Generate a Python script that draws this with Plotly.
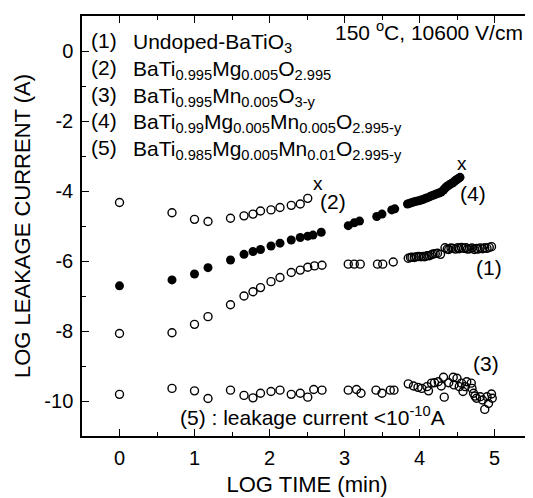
import plotly.graph_objects as go

# ---- data (LOG TIME, LOG CURRENT) ----
s1_x = [0, 0.70, 1.0, 1.18, 1.48, 1.66, 1.78, 1.88, 2.02, 2.14, 2.29, 2.41, 2.51, 2.60, 2.70,
        3.05, 3.13, 3.21, 3.44, 3.51, 3.65,
        3.85, 3.88, 3.90, 3.93, 3.96, 3.99, 4.02, 4.05, 4.07, 4.10, 4.13, 4.16, 4.18, 4.21, 4.24,
        4.28, 4.34, 4.37, 4.39, 4.42, 4.45, 4.48, 4.51, 4.53, 4.56, 4.59, 4.62, 4.64, 4.67, 4.70,
        4.73, 4.76, 4.78, 4.81, 4.84, 4.87, 4.90, 4.93, 4.96]
s1_y = [-8.07, -8.05, -7.81, -7.59, -7.25, -7.0, -6.88, -6.76, -6.59, -6.47, -6.33, -6.26, -6.18, -6.14, -6.12,
        -6.09, -6.09, -6.09, -6.09, -6.09, -6.03,
        -5.92, -5.90, -5.89, -5.90, -5.88, -5.87, -5.88, -5.87, -5.88, -5.85, -5.85, -5.82, -5.80, -5.79, -5.78,
        -5.81, -5.62, -5.66, -5.67, -5.63, -5.64, -5.66, -5.62, -5.65, -5.61, -5.64, -5.62, -5.66, -5.65, -5.63,
        -5.67, -5.64, -5.66, -5.63, -5.65, -5.62, -5.64, -5.61, -5.59]

s2_x = [0, 0.70, 1.0, 1.18, 1.48, 1.66, 1.78, 1.88, 2.02, 2.14, 2.29, 2.41, 2.51]
s2_y = [-4.33, -4.62, -4.81, -4.87, -4.78, -4.71, -4.66, -4.57, -4.54, -4.47, -4.41, -4.37, -4.21]

s3_x = [0, 0.70, 1.0, 1.18, 1.48, 1.66, 1.78, 1.88, 2.02, 2.14, 2.29, 2.41, 2.51, 2.59, 2.70,
        3.05, 3.16, 3.22, 3.42, 3.50, 3.61, 3.66,
        3.85, 3.92, 3.98, 4.03, 4.10, 4.12, 4.16, 4.20, 4.25, 4.29, 4.32, 4.33, 4.39, 4.45, 4.46,
        4.50, 4.53, 4.56, 4.58, 4.61, 4.63, 4.69, 4.70, 4.72, 4.74, 4.76, 4.81, 4.84, 4.87, 4.90,
        4.92, 4.96, 4.97]
s3_y = [-9.81, -9.64, -9.71, -9.93, -9.69, -9.84, -9.91, -9.78, -9.73, -9.69, -9.81, -9.78, -9.89, -9.67, -9.69,
        -9.69, -9.67, -9.78, -9.69, -9.78, -9.69, -9.69,
        -9.51, -9.57, -9.61, -9.64, -9.59, -9.71, -9.49, -9.48, -9.45, -9.57, -9.32, -9.89, -9.48, -9.32, -9.54,
        -9.35, -9.59, -9.49, -9.73, -9.59, -9.45, -9.49, -9.64, -9.78, -9.86, -9.92, -9.88, -9.97, -10.24, -9.88,
        -10.07, -9.80, -9.92]

s4_x = [0, 0.70, 1.0, 1.18, 1.48, 1.66, 1.78, 1.88, 2.02, 2.14, 2.29, 2.41, 2.51, 2.58, 2.69,
        3.05, 3.13, 3.20, 3.43, 3.50, 3.63, 3.67,
        3.84, 3.87, 3.90, 3.93, 3.96, 3.99, 4.02, 4.05, 4.08, 4.11, 4.14, 4.17, 4.20, 4.23, 4.26,
        4.29, 4.32, 4.34, 4.36, 4.38, 4.40, 4.42, 4.44, 4.46, 4.48, 4.50, 4.52, 4.54]
s4_y = [-6.71, -6.54, -6.37, -6.19, -5.97, -5.81, -5.73, -5.67, -5.57, -5.49, -5.40, -5.33, -5.29, -5.26, -5.18,
        -4.99, -4.91, -4.86, -4.73, -4.66, -4.54, -4.51,
        -4.37, -4.35, -4.33, -4.31, -4.29, -4.28, -4.26, -4.24, -4.21, -4.19, -4.16, -4.13, -4.11, -4.08, -4.06,
        -4.03, -3.97, -3.92, -3.88, -3.85, -3.82, -3.79, -3.77, -3.74, -3.70, -3.67, -3.64, -3.61]

x_ticks = [0, 1, 2, 3, 4, 5]
y_ticks = [0, -2, -4, -6, -8, -10]

FONT = "Liberation Sans, Arial, sans-serif"

fig = go.Figure()
open_m = dict(symbol="circle-open", size=8, color="black", line=dict(width=1.4, color="black"))
fill_m = dict(symbol="circle", size=9, color="black")
fig.add_trace(go.Scatter(x=s1_x, y=s1_y, mode="markers", marker=open_m, name="(1)"))
fig.add_trace(go.Scatter(x=s2_x, y=s2_y, mode="markers", marker=open_m, name="(2)"))
fig.add_trace(go.Scatter(x=s3_x, y=s3_y, mode="markers", marker=open_m, name="(3)"))
fig.add_trace(go.Scatter(x=s4_x, y=s4_y, mode="markers", marker=fill_m, name="(4)"))

axis_common = dict(
    showline=True, linecolor="black", linewidth=1.5, mirror="ticks",
    ticks="inside", ticklen=7, tickwidth=1.2, tickcolor="black",
    showgrid=False, zeroline=False, automargin=False,
    tickfont=dict(family=FONT, size=20, color="black"),
)
fig.update_xaxes(range=[-0.5, 5.5], tickvals=x_ticks, ticktext=[str(v) for v in x_ticks],
                 minor=dict(dtick=0.5, tick0=0, ticks="inside", ticklen=4, tickwidth=1.2, tickcolor="black"),
                 title=dict(text="LOG TIME (min)", font=dict(family=FONT, size=22, color="black"), standoff=9),
                 ticklabelstandoff=3,
                 **axis_common)
fig.update_yaxes(range=[-11, 1], tickvals=y_ticks, ticktext=[str(v) for v in y_ticks],
                 minor=dict(dtick=1, tick0=0, ticks="inside", ticklen=4, tickwidth=1.2, tickcolor="black"),
                 title=dict(text="LOG LEAKAGE CURRENT (A)", font=dict(family=FONT, size=22, color="black"), standoff=8),
                 ticklabelstandoff=3,
                 **axis_common)

ann = []
def add(text, x, y, xa="left", ya="middle", size=21):
    ann.append(dict(text=text, x=x, y=y, xref="x", yref="y", xanchor=xa, yanchor=ya,
                    showarrow=False, font=dict(family=FONT, size=size, color="black")))

labels_n = ["(1)", "(2)", "(3)", "(4)", "(5)"]
formulas = [
    "Undoped-BaTiO<sub>3</sub>",
    "BaTi<sub>0.995</sub>Mg<sub>0.005</sub>O<sub>2.995</sub>",
    "BaTi<sub>0.995</sub>Mn<sub>0.005</sub>O<sub>3-y</sub>",
    "BaTi<sub>0.99</sub>Mg<sub>0.005</sub>Mn<sub>0.005</sub>O<sub>2.995-y</sub>",
    "BaTi<sub>0.985</sub>Mg<sub>0.005</sub>Mn<sub>0.01</sub>O<sub>2.995-y</sub>",
]
line_y = [0.30, -0.46, -1.23, -1.99, -2.75]
for n, f, yy in zip(labels_n, formulas, line_y):
    add(n, -0.41, yy)
    add(f, 0.15, yy, ya="top")
    ann[-1]["y"] = yy + 0.35

add("150 <sup>o</sup>C, 10600 V/cm", 5.40, 0.57, xa="right")
add("(5) : leakage current <10<sup>-10</sup>A", 0.78, -10.42)
add("(2)", 2.84, -4.30, xa="center")
add("(4)", 4.71, -4.07, xa="center")
add("(1)", 4.93, -6.19, xa="center")
add("(3)", 4.89, -8.94, xa="center")
add("x", 2.64, -3.79, xa="center", size=19)
add("x", 4.56, -3.22, xa="center", size=19)

# the page body adds an 8px offset, so the figure is 8px smaller and margins shifted
fig.update_layout(
    width=525, height=490,
    margin=dict(l=74, r=1, t=8, b=62),
    paper_bgcolor="white", plot_bgcolor="white",
    showlegend=False,
    annotations=ann,
    font=dict(family=FONT, color="black"),
)

fig.write_html("out.html")
